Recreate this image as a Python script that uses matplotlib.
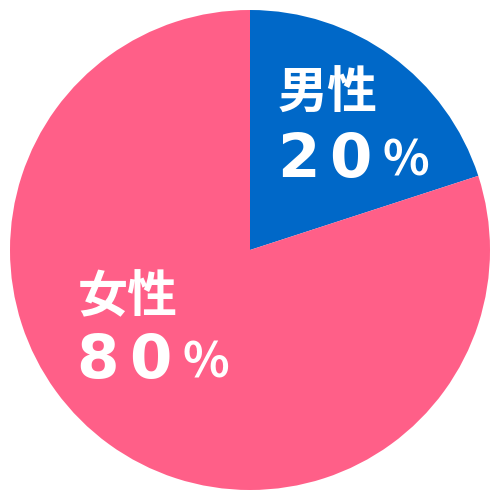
import matplotlib
matplotlib.use("Agg")
import matplotlib.pyplot as plt

plt.rcParams["font.family"] = ["Noto Sans CJK JP", "DejaVu Sans"]

# data
labels = ["男性", "女性"]
shares = [20, 80]
colors = ["#0068C8", "#FF5F88"]

W = H = 500
fig = plt.figure(figsize=(5, 5), dpi=100)
ax = fig.add_axes([0, 0, 1, 1])
ax.pie(shares, colors=colors, startangle=90, counterclock=False,
       center=(250, 250), radius=240,
       wedgeprops=dict(linewidth=0))
ax.set_xlim(0, W)
ax.set_ylim(0, H)
ax.set_aspect("equal")
ax.axis("off")


def put(x, y, s, size, family=None):
    # x, y in image pixels (y from top), baseline anchored
    kw = {"family": family} if family else {}
    ax.text(x, H - y, s, color="white", fontsize=size, fontweight="bold",
            ha="center", va="baseline", **kw)


# label positions (pixel coords of the picture)
label_pos = [(328, 109), (128, 312)]
pct_base = [(298, 177), (98, 378)]

for (lx, ly), (px, py), name, v in zip(label_pos, pct_base, labels, shares):
    put(lx, ly, name, 36)
    digits = str(v)
    for i, ch in enumerate(digits):
        put(px + i * 52, py, ch, 44, family="DejaVu Sans")
    put(px + 108, py - 1, "%", 35)

fig.savefig("out.png", dpi=100)
